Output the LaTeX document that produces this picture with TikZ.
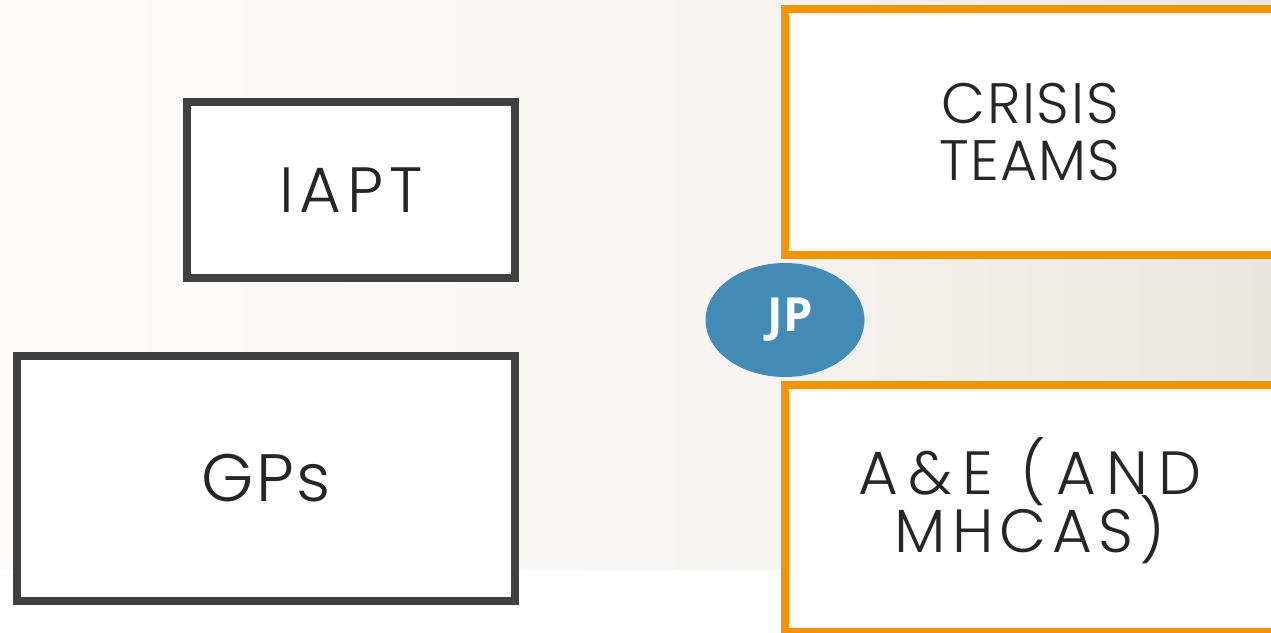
\documentclass[tikz,border=0pt]{standalone}
\usepackage{fontspec}
\setmainfont{Poppins Light}
\newfontfamily\jpfont{Open Sans}[UprightFont=* Bold]
\usetikzlibrary{shapes.geometric}
\definecolor{boxgray}{HTML}{404040}
\definecolor{boxorange}{HTML}{F79200}
\definecolor{jpblue}{HTML}{428BB4}
\definecolor{txt}{HTML}{262626}
\definecolor{bgA}{HTML}{FDFCFB}
\definecolor{bgB}{HTML}{F7F4F0}
\definecolor{bgC}{HTML}{F6F3EF}
\definecolor{bgD}{HTML}{E9E6E1}
\newcommand{\ls}[1]{\addfontfeatures{LetterSpace=#1}}
\newcommand{\nolskip}{\lineskiplimit=-100pt\relax}
\tikzset{
  graybox/.style={draw=boxgray, line width=8pt, fill=white, inner sep=0pt, text=txt, align=center},
  orangebox/.style={draw=boxorange, line width=8pt, fill=white, inner sep=0pt, text=txt, align=center},
}
\begin{document}
\begin{tikzpicture}[x=1pt,y=-1pt]
\useasboundingbox (0,0) rectangle (1271,632);
\fill[white] (0,0) rectangle (1271,632);
\shade[left color=bgA, right color=bgB] (0,0) rectangle (781,569);
\shade[left color=bgC, right color=bgD] (781,0) rectangle (1271,569);
\node[graybox, minimum width=328pt, minimum height=176pt, font=\fontsize{64}{64}\selectfont\ls{9}] (iapt) at (351,190) {IAPT};
\node[graybox, minimum width=498pt, minimum height=245pt, font=\fontsize{67}{67}\selectfont\ls{3}] (gps) at (266,478.5) {GPs};
\node[orangebox, minimum width=489.5pt, minimum height=246pt, font=\fontsize{57}{57}\selectfont\nolskip] (crisis) at (1030,132) {{\ls{3}CRISIS}\\{\ls{2}TEAMS}};
\node[orangebox, minimum width=489.5pt, minimum height=247pt,
  label={[text=txt, align=center, yshift=8pt, font=\fontsize{61}{58}\selectfont\nolskip]center:{{\ls{17}A\&E (AND}\\{\ls{10}MHCAS)}}}] (ae) at (1030,508.5) {};
\node[ellipse, fill=jpblue, minimum width=159pt, minimum height=114pt, inner sep=0pt, text=white, font=\jpfont\fontsize{47}{50}\selectfont] (jp) at (785,320) {\hspace*{10pt}JP};
\end{tikzpicture}
\end{document}
